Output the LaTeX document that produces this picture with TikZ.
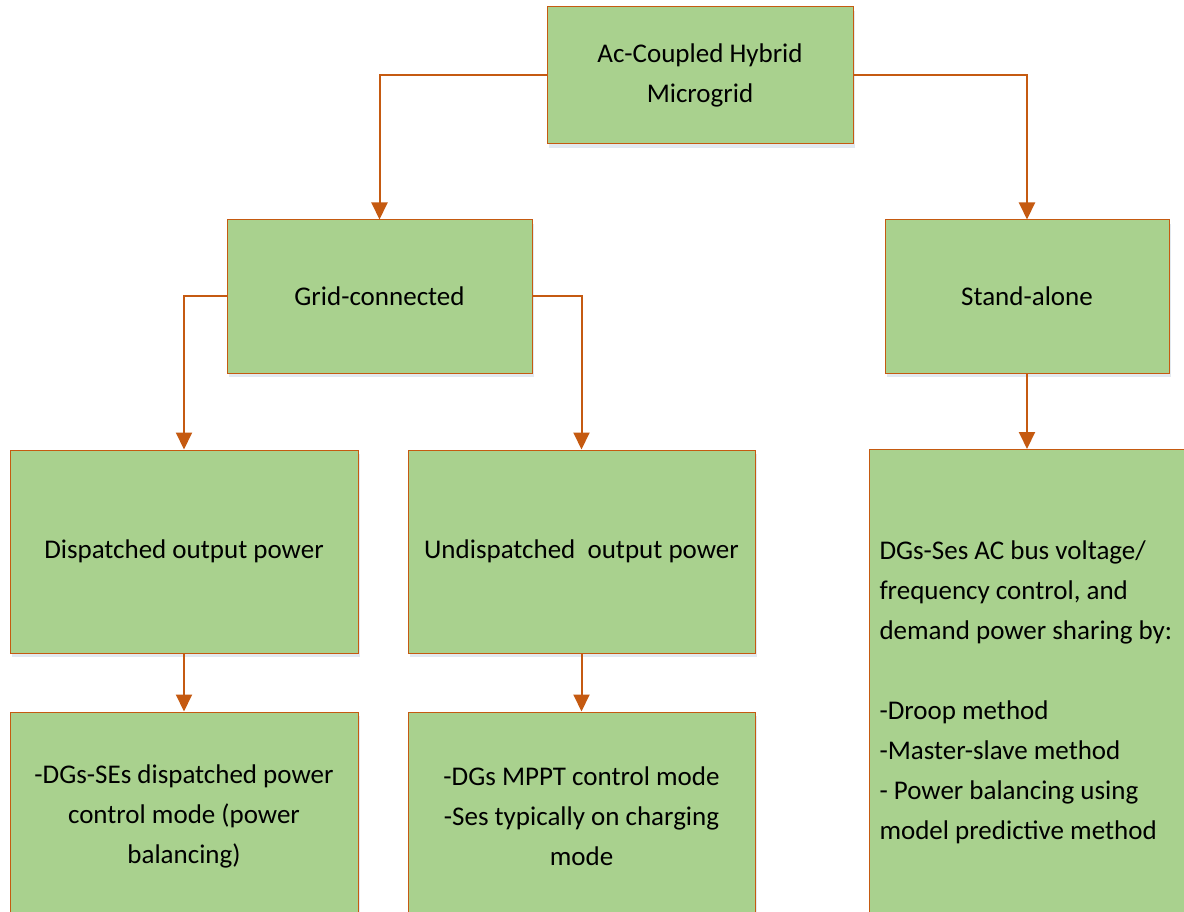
\documentclass[tikz,border=0pt]{standalone}
\usepackage{fontspec}
\setmainfont{Carlito}
\usetikzlibrary{arrows.meta,shadows}
\definecolor{boxfill}{HTML}{A9D18E}
\definecolor{rust}{HTML}{C55A11}
\definecolor{haze}{HTML}{E2E9F1}

\begin{document}
\begin{tikzpicture}[x=1pt,y=-1pt,
  box/.style={draw=rust, line width=1pt, fill=boxfill, rectangle,
    inner sep=0pt, align=center, text=black,
    font=\fontsize{27}{40}\selectfont,
    drop shadow={shadow xshift=1.5pt, shadow yshift=-4pt, fill=haze, opacity=1}},
  link/.style={draw=rust, line width=2pt,
    -{Triangle[length=17pt,width=16pt]}},
]
\clip (0,0) rectangle (1184,912);
\fill[white] (0,0) rectangle (1184,912);

% top level
\node[box, minimum width=306, minimum height=137] (root) at (700,75.5)
  {Ac-Coupled Hybrid\\Microgrid};

% operating modes
\node[box, minimum width=305, minimum height=153] (grid) at (379.5,296.5)
  {Grid-connected};
\node[box, minimum width=284, minimum height=153] (stand) at (1027,296.5)
  {Stand-alone};

% grid-connected branches
\node[box, minimum width=348, minimum height=203] (disp) at (184,551.5)
  {Dispatched output power};
\node[box, minimum width=347, minimum height=203] (undisp) at (581.5,551.5)
  {Undispatched\ \ output power};

\node[box, minimum width=348, minimum height=208] (dmode) at (184,816)
  {-DGs-SEs dispatched power\\control mode (power\\balancing)};
\node[box, minimum width=347, minimum height=208] (umode) at (581.5,816)
  {-DGs MPPT control mode\\-Ses typically on charging\\mode};

% stand-alone control
\node[box, anchor=north west, align=flush left, text width=330, inner xsep=10pt,
  minimum height=486] (island) at (869,449)
  {DGs-Ses AC bus voltage/\\frequency control, and\\demand power sharing by:\\[40pt]%
   -Droop method\\-Master-slave method\\- Power balancing using\\model predictive method};

% connectors
\draw[link] (root.west) -| (grid.north);
\draw[link] (root.east) -| (stand.north);
\draw[link] (grid.west) -| (disp.north);
\draw[link] (grid.east) -| (undisp.north);
\draw[link] (stand.south) -- (stand.south |- island.north);
\draw[link] (disp.south) -- (dmode.north);
\draw[link] (undisp.south) -- (umode.north);
\end{tikzpicture}
\end{document}
